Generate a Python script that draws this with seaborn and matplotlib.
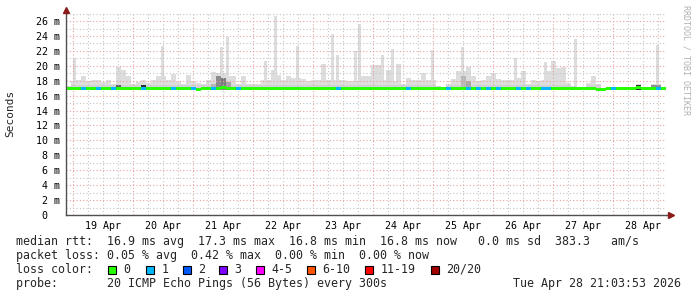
import numpy as np
import pandas as pd
import matplotlib
matplotlib.use("Agg")
import matplotlib.pyplot as plt
from matplotlib.patches import Rectangle
from matplotlib.ticker import FixedLocator, FuncFormatter
import seaborn as sns

sns.set_theme(style="white")
plt.rcParams['font.family'] = ['DejaVu Sans Mono', 'DejaVu Sans']

# ---------------- data (2-hour consolidated steps, hours from 19 Apr 00:00) ----------------
step_hours = np.arange(120) * 2 - 2          # centre of each 2 h step

# upper edge of the ordinary smoke per step (ms)
smoke_top = [17.3, 18.0, 18.05, 18.6, 17.9, 18.05, 18.05, 17.8, 18.1, 17.5,
             19.8, 19.5, 18.7, 17.5, 17.8, 18.1, 17.7, 18.05, 18.6, 18.6,
             18.1, 18.9, 17.8, 17.6, 18.8, 18.0, 17.7, 17.5, 18.1, 19.2,
             19.0, 19.0, 18.6, 18.6, 17.5, 18.6, 17.5, 17.5, 17.6, 18.05,
             18.05, 19.5, 18.8, 18.1, 18.6, 18.4, 18.4, 18.2, 17.9, 18.05,
             18.1, 20.3, 18.1, 18.1, 18.1, 18.1, 18.0, 18.0, 18.0, 18.6,
             18.6, 20.1, 20.1, 18.1, 19.5, 18.0, 20.2, 17.5, 18.4, 18.05,
             18.05, 19.1, 18.1, 18.1, 17.25, 17.0, 17.5, 18.2, 19.3, 19.3,
             19.9, 18.6, 17.9, 18.05, 18.6, 19.0, 18.2, 18.1, 18.1, 18.1,
             18.3, 19.3, 17.5, 18.05, 17.9, 18.05, 19.3, 20.7, 19.7, 19.9,
             17.7, 17.25, 17.2, 17.0, 17.7, 18.6, 17.6, 17.0, 17.0, 17.2,
             17.2, 17.0, 17.0, 17.0, 17.5, 17.0, 17.0, 17.5, 17.5, 17.0]
smoke_min = 16.8
smoke_core = 17.45          # denser lower part of the smoke

# isolated tall spikes (hour from 19 Apr 00:00, ms)
spike_hours = [0.6, 35.8, 59.3, 61.7, 76.8, 80.8, 89.6, 103.6, 105.8, 112.8,
               114.6, 123.8, 127.7, 143.8, 155.6, 177.0, 188.8, 200.8, 233.8]
spike_values = [21.0, 22.6, 22.5, 23.8, 20.6, 26.7, 22.6, 24.2, 21.5, 22.0,
                25.6, 21.5, 22.3, 22.1, 22.5, 21.0, 20.5, 23.6, 22.8]

median_rtt = [16.9, 16.9, 16.9, 16.9, 16.9, 16.9, 16.9, 16.9, 16.9, 16.9,
              16.9, 16.9, 16.9, 16.9, 16.9, 16.9, 16.9, 16.9, 16.9, 16.9,
              16.9, 16.9, 16.9, 16.9, 16.9, 16.9, 16.85, 16.9, 16.9, 16.9,
              16.95, 17.15, 16.95, 16.9, 16.9, 16.9, 16.9, 16.9, 16.9, 16.9,
              16.9, 16.9, 16.9, 16.9, 16.9, 16.9, 16.9, 16.9, 16.9, 16.9,
              16.9, 16.9, 16.9, 16.9, 16.9, 16.9, 16.9, 16.9, 16.9, 16.9,
              16.9, 16.9, 16.9, 16.9, 16.9, 16.9, 16.9, 16.9, 16.9, 16.9,
              16.9, 16.9, 16.9, 16.9, 16.9, 16.9, 16.9, 16.9, 16.9, 16.9,
              16.9, 16.9, 16.9, 16.9, 16.9, 16.9, 16.9, 16.9, 16.9, 16.9,
              16.9, 16.9, 16.9, 16.9, 16.9, 16.9, 16.9, 16.9, 16.9, 16.9,
              16.9, 16.9, 16.9, 16.9, 16.9, 16.9, 16.85, 16.85, 16.9, 16.9,
              16.9, 16.9, 16.9, 16.9, 17.15, 16.9, 16.9, 16.9, 16.9, 16.9]

lost_pings = [0, 0, 0, 1, 0, 0, 1, 0, 0, 1,
              0, 0, 0, 0, 0, 1, 0, 0, 0, 0,
              0, 1, 0, 0, 0, 1, 0, 0, 0, 1,
              0, 0, 0, 0, 1, 0, 0, 0, 0, 0,
              0, 0, 0, 0, 0, 0, 0, 0, 0, 0,
              0, 0, 0, 0, 1, 0, 0, 0, 0, 0,
              0, 0, 0, 0, 0, 0, 0, 0, 1, 0,
              0, 0, 0, 0, 0, 0, 1, 0, 0, 0,
              1, 0, 1, 0, 1, 0, 1, 0, 0, 0,
              1, 0, 1, 0, 0, 1, 1, 0, 0, 0,
              0, 0, 0, 0, 0, 0, 0, 0, 0, 1,
              0, 0, 0, 0, 0, 0, 0, 0, 1, 0]

# denser smoke (many pings in a narrow band)
dense_steps = [10, 15, 29, 30, 31, 32, 79, 80, 114, 117, 118]
dense_top = [17.4, 17.4, 17.6, 18.6, 18.3, 17.8, 18.6, 18.0, 17.4, 17.4, 17.4]
dense_shade = ['#606060', '#303030', '#b4b4b4', '#8c8c8c', '#7c7c7c', '#a4a4a4',
               '#b8b8b8', '#a8a8a8', '#303030', '#909090', '#909090']

loss_labels = ['0', '1', '2', '3', '4-5', '6-10', '11-19', '20/20']
loss_colors = ['#26ff00', '#00b8ff', '#0059ff', '#7e00ff', '#ff00ff', '#ff5500', '#ff0000', '#a10000']

day_labels = ['19 Apr', '20 Apr', '21 Apr', '22 Apr', '23 Apr', '24 Apr',
              '25 Apr', '26 Apr', '27 Apr', '28 Apr']

df = pd.DataFrame({'hour': step_hours, 'top': smoke_top, 'median': median_rtt,
                   'loss': lost_pings})

# ---------------- figure ----------------
W, H = 697, 297
fig = plt.figure(figsize=(W / 100, H / 100), dpi=100, facecolor='white')

def fx(x):
    return x / W

def fy(y):
    return 1 - y / H

ax = fig.add_axes([fx(66), fy(215), 600 / W, (215 - 13) / H])
ax.set_facecolor('white')
ax.set_xlim(-2.96, 237.04)
ax.set_ylim(0, 27.08)

# grid
ax.xaxis.set_major_locator(FixedLocator([24 * d for d in range(10)]))
minor_x = [h for h in range(-18, 240, 6) if h % 24 != 0]
ax.xaxis.set_minor_locator(FixedLocator(minor_x))
day_map = {12 + 24 * i: lab for i, lab in enumerate(day_labels)}
ax.xaxis.set_major_formatter(FuncFormatter(lambda v, p: ''))
ax.xaxis.set_minor_formatter(FuncFormatter(lambda v, p: day_map.get(int(round(v)), '')))
ax.yaxis.set_major_locator(FixedLocator(list(range(0, 27, 2))))
ax.yaxis.set_minor_locator(FixedLocator(list(range(1, 28, 2))))
ax.yaxis.set_major_formatter(FuncFormatter(lambda v, p: '0  ' if v == 0 else f'{int(v)} m'))

dot = (0, (1, 2))
ax.grid(which='major', axis='both', color='#e8a0a0', linestyle=dot, linewidth=0.8)
ax.grid(which='minor', axis='both', color='#c4c4c4', linestyle=dot, linewidth=0.8)
ax.set_axisbelow(False)   # grid drawn over the smoke (zorder 2.5)

ax.tick_params(axis='both', which='both', length=0, labelsize=7.2, colors='black')
ax.tick_params(axis='y', which='major', pad=4.3)
ax.tick_params(axis='x', which='minor', pad=4.0)

# smoke
ax.bar(df['hour'], df['top'] - smoke_min, bottom=smoke_min, width=2.0,
       color='#dddddd', linewidth=0, align='center', zorder=2)
ax.bar(spike_hours, np.array(spike_values) - smoke_min, bottom=smoke_min, width=1.2,
       color='#dddddd', linewidth=0, align='center', zorder=2)
core_h = np.minimum(np.array(smoke_top), smoke_core) - smoke_min
ax.bar(df['hour'], core_h, bottom=smoke_min, width=2.0,
       color='#d2d2d2', linewidth=0, align='center', zorder=2.1)
d_hours = df['hour'].values[dense_steps]
ax.bar(d_hours, np.array(dense_top) - smoke_min, bottom=smoke_min, width=2.0,
       color=dense_shade, linewidth=0, align='center', zorder=2.2)

# median line coloured by loss
line_cols = [loss_colors[l] for l in df['loss']]
ax.bar(df['hour'], 0.4, bottom=df['median'] - 0.2, width=2.0,
       color=line_cols, linewidth=0, align='center', zorder=4)

# axes
sns.despine(ax=ax, top=True, right=True)
for side in ('left', 'bottom'):
    ax.spines[side].set_color('#505050')
    ax.spines[side].set_linewidth(1.0)
    ax.spines[side].set_zorder(5)
ax.plot([0, 0], [1, 1.012], transform=ax.transAxes, color='#505050', lw=1.0, clip_on=False)
ax.plot([1, 1.006], [0, 0], transform=ax.transAxes, color='#505050', lw=1.0, clip_on=False)
ax.plot([0], [1.017], transform=ax.transAxes, marker='^', markersize=4.5,
        color='#8b1a1a', clip_on=False, zorder=10)
ax.plot([1.009], [0], transform=ax.transAxes, marker='>', markersize=4.5,
        color='#8b1a1a', clip_on=False, zorder=10)

fig.text(fx(10), fy(113), 'Seconds', rotation=90, ha='center', va='center', fontsize=8)
fig.text(fx(686), fy(60), 'RRDTOOL / TOBI OETIKER', rotation=270, ha='center',
         va='center', fontsize=6, color='#b0b0b0')

# legend / stats
fs = 8.4
fig.text(fx(16), fy(241.5),
         'median rtt:  16.9 ms avg  17.3 ms max  16.8 ms min  16.8 ms now   0.0 ms sd  383.3   am/s',
         ha='left', va='center', fontsize=fs)
fig.text(fx(16), fy(255.5),
         'packet loss: 0.05 % avg  0.42 % max  0.00 % min  0.00 % now',
         ha='left', va='center', fontsize=fs)
fig.text(fx(16), fy(269.5), 'loss color:', ha='left', va='center', fontsize=fs)
box_x = [108, 146, 183, 219, 256, 307, 365, 431]
for bx, lab, col in zip(box_x, loss_labels, loss_colors):
    fig.patches.append(Rectangle((fx(bx), fy(273.5)), 8 / W, 8 / H, transform=fig.transFigure,
                                 facecolor=col, edgecolor='black', linewidth=0.8))
    fig.text(fx(bx + 15.5), fy(269.5), lab, ha='left', va='center', fontsize=fs)
fig.text(fx(16), fy(283.5), 'probe:       20 ICMP Echo Pings (56 Bytes) every 300s',
         ha='left', va='center', fontsize=fs)
fig.text(fx(681), fy(283.5), 'Tue Apr 28 21:03:53 2026', ha='right', va='center', fontsize=fs)

fig.savefig('out.png', dpi=100, facecolor='white')
